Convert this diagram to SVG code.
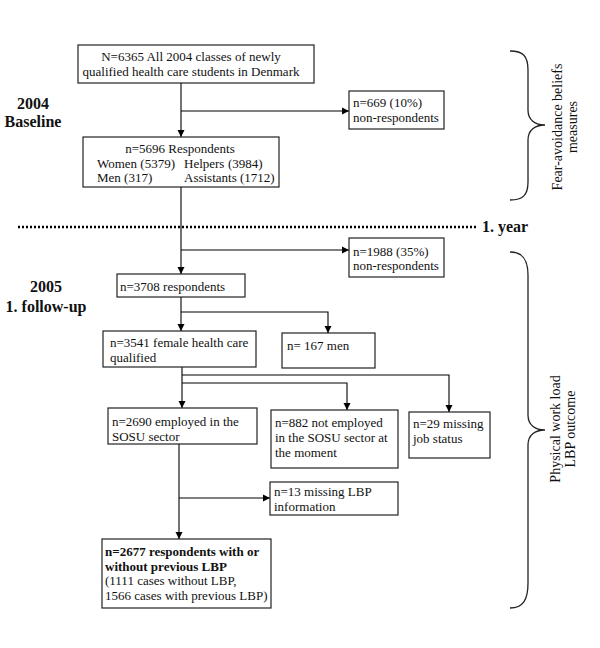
<svg xmlns="http://www.w3.org/2000/svg" width="600" height="648" viewBox="0 0 600 648">
<defs>
<marker id="arr" markerWidth="8" markerHeight="8" refX="7" refY="4" orient="auto" markerUnits="userSpaceOnUse">
<path d="M0,0.5 L7,4 L0,7.5 Z" fill="#000"/>
</marker>
<style>
.box{fill:#fff;stroke:#222;stroke-width:1.2}
.t{font-family:"Liberation Serif","Times New Roman",serif;font-size:13px;fill:#111}
.b{font-weight:bold}
.lab{font-family:"Liberation Serif","Times New Roman",serif;font-size:16px;font-weight:bold;fill:#111}
.c{fill:none;stroke:#000;stroke-width:1.1}
.ca{fill:none;stroke:#000;stroke-width:1.1;marker-end:url(#arr)}
.br{fill:none;stroke:#222;stroke-width:1.3}
</style>
</defs>
<rect width="600" height="648" fill="#fff"/>

<g id="connectors">
<line class="ca" x1="181" y1="83" x2="181" y2="137"/>
<line class="ca" x1="181" y1="111" x2="349" y2="111"/>
<line class="c" x1="181" y1="187" x2="181" y2="250"/>
<line class="ca" x1="181" y1="250" x2="181" y2="274"/>
<line class="ca" x1="181" y1="250" x2="349" y2="250"/>
<line class="ca" x1="181" y1="297" x2="181" y2="331"/>
<polyline class="ca" points="181,312 328,312 328,333"/>
<line class="ca" x1="182" y1="367" x2="182" y2="408"/>
<polyline class="ca" points="182,375 449,375 449,412"/>
<polyline class="ca" points="182,383 347,383 347,410"/>
<line class="ca" x1="179" y1="444" x2="179" y2="539"/>
<line class="ca" x1="179" y1="498" x2="270" y2="498"/>
</g>

<g id="n6365">
<rect class="box" x="78" y="45" width="236" height="38"/>
<text class="t" x="191" y="61" text-anchor="middle">N=6365 All 2004 classes of newly</text>
<text class="t" x="191" y="76" text-anchor="middle">qualified health care students in Denmark</text>
</g>

<g id="n669">
<rect class="box" x="349" y="91" width="95" height="38"/>
<text class="t" x="353" y="107">n=669 (10%)</text>
<text class="t" x="353" y="122">non-respondents</text>
</g>

<g id="n5696">
<rect class="box" x="83" y="137" width="196" height="50"/>
<text class="t" x="180" y="153" text-anchor="middle">n=5696 Respondents</text>
<text class="t" x="97" y="168">Women (5379)</text>
<text class="t" x="184" y="168">Helpers</text>
<text class="t" x="228" y="168">(3984)</text>
<text class="t" x="97" y="182">Men (317)</text>
<text class="t" x="184" y="182">Assistants (1712)</text>
</g>

<g id="labels">
<text class="lab" x="33" y="109" text-anchor="middle">2004</text>
<text class="lab" x="33" y="127" text-anchor="middle">Baseline</text>
<text class="lab" x="46" y="292" text-anchor="middle">2005</text>
<text class="lab" x="46" y="312" text-anchor="middle">1. follow-up</text>
<line x1="18" y1="227" x2="478" y2="227" stroke="#000" stroke-width="2.5" stroke-dasharray="2,2"/>
<text class="lab" x="482" y="232">1. year</text>
</g>

<g id="brace1">
<path class="br" d="M510,51 C523,51 528,56 528,70 L528,110 C528,120 535,125 545,125 C535,125 528,130 528,140 L528,182 C528,195 523,200 510,200"/>
<text class="t" transform="translate(562,127) rotate(-90)" text-anchor="middle" style="font-size:14px">Fear-avoidance beliefs</text>
<text class="t" transform="translate(577,127) rotate(-90)" text-anchor="middle" style="font-size:14px">measures</text>
</g>

<g id="n1988">
<rect class="box" x="349" y="238" width="95" height="39"/>
<text class="t" x="353" y="256">n=1988 (35%)</text>
<text class="t" x="353" y="270">non-respondents</text>
</g>

<g id="n3708">
<rect class="box" x="117" y="274" width="128" height="23"/>
<text class="t" x="120" y="291">n=3708 respondents</text>
</g>

<g id="n3541">
<rect class="box" x="103" y="331" width="153" height="36"/>
<text class="t" x="110" y="347">n=3541 female health care</text>
<text class="t" x="110" y="362">qualified</text>
</g>

<g id="n167">
<rect class="box" x="282" y="333" width="93" height="35"/>
<text class="t" x="287" y="350">n= 167 men</text>
</g>

<g id="n2690">
<rect class="box" x="108" y="408" width="149" height="36"/>
<text class="t" x="112" y="426">n=2690 employed in the</text>
<text class="t" x="112" y="441">SOSU sector</text>
</g>

<g id="n882">
<rect class="box" x="271" y="410" width="127" height="58"/>
<text class="t" x="275" y="427">n=882 not employed</text>
<text class="t" x="275" y="442">in the SOSU sector at</text>
<text class="t" x="275" y="457">the moment</text>
</g>

<g id="n29">
<rect class="box" x="409" y="412" width="81" height="46"/>
<text class="t" x="413" y="428">n=29 missing</text>
<text class="t" x="413" y="443">job status</text>
</g>

<g id="brace2">
<path class="br" d="M510,252 C523,252 528,260 528,275 L528,415 C528,425 535,430 545,430 C535,430 528,435 528,445 L528,583 C528,600 523,608 510,608"/>
<text class="t" transform="translate(560,429) rotate(-90)" text-anchor="middle" style="font-size:14px">Physical work load</text>
<text class="t" transform="translate(575,429) rotate(-90)" text-anchor="middle" style="font-size:14px">LBP outcome</text>
</g>

<g id="n13">
<rect class="box" x="270" y="482" width="128" height="33"/>
<text class="t" x="274" y="496">n=13 missing LBP</text>
<text class="t" x="274" y="511">information</text>
</g>

<g id="n2677">
<rect class="box" x="102" y="539" width="169" height="69"/>
<text class="t b" x="105" y="556">n=2677 respondents with or</text>
<text class="t b" x="105" y="571">without previous LBP</text>
<text class="t" x="105" y="585">(1111 cases without LBP,</text>
<text class="t" x="105" y="600">1566 cases with previous LBP)</text>
</g>
</svg>
